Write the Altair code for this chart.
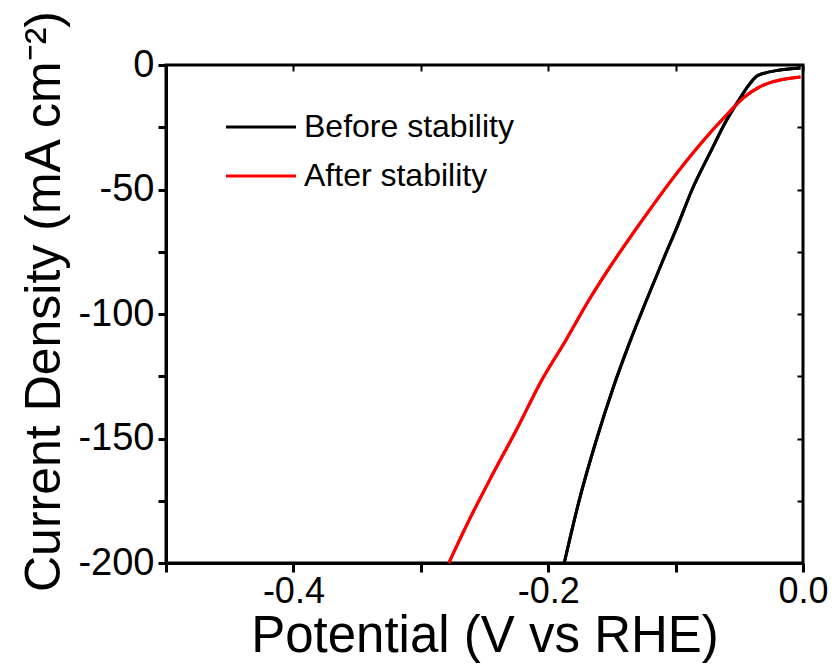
import altair as alt
import pandas as pd

before_v = [-0.1874, -0.1756, -0.1622, -0.1496, -0.1362, -0.1228, -0.1100, -0.0980,
            -0.0866, -0.0732, -0.0598, -0.0496, -0.0417, -0.0354, -0.0180, -0.0020]
before_j = [-200, -174.7, -150.6, -130.5, -111.6, -94.4, -78.5, -64.0,
            -49.5, -35.5, -22.0, -13.5, -7.5, -4.2, -2.0, -1.2]

after_v = [-0.278, -0.262, -0.246, -0.225, -0.205, -0.186, -0.168, -0.152,
           -0.126, -0.099, -0.073, -0.060, -0.047, -0.034, -0.024, -0.018, -0.002]
after_j = [-200, -182.7, -166.7, -146.6, -126.5, -110.4, -94.4, -81.5,
           -62.2, -43.4, -27.3, -20.1, -13.3, -8.8, -6.8, -6.0, -4.8]

series = ["Before stability", "After stability"]
colors = ["#000000", "#ff0000"]

x_ticks = [-0.5, -0.4, -0.3, -0.2, -0.1, 0.0]
y_ticks = [0, -25, -50, -75, -100, -125, -150, -175, -200]

rows = []
for i, (v, j) in enumerate(zip(before_v, before_j)):
    rows.append({"series": series[0], "order": i, "V": v, "J": j})
for i, (v, j) in enumerate(zip(after_v, after_j)):
    rows.append({"series": series[1], "order": i, "V": v, "J": j})
df = pd.DataFrame(rows)

FONT = "Liberation Sans"

xscale = alt.Scale(domain=[-0.5, 0.0], nice=False, zero=False)
yscale = alt.Scale(domain=[-200, 0], nice=False, zero=False)
color = alt.Color("series:N", sort=series,
                  scale=alt.Scale(domain=series, range=colors),
                  legend=alt.Legend(title=None, orient="none", legendX=76, legendY=43,
                                    symbolType="M-2,0H2", symbolSize=1225,
                                    symbolStrokeWidth=3, labelFontSize=32,
                                    labelFont=FONT, labelColor="black",
                                    rowPadding=14, labelOffset=24, labelLimit=400))

main = alt.Chart(df).mark_line(strokeWidth=3, interpolate="monotone").encode(
    x=alt.X("V:Q", scale=xscale,
            axis=alt.Axis(title="Potential (V vs RHE)", values=x_ticks,
                          labelExpr="abs(round(datum.value*10)) % 2 == 0 ? replace(format(datum.value, '.1f'), '\u2212', '-') : ''",
                          tickSize=9, tickWidth=3, domainWidth=3, domainColor="black",
                          tickColor="black", labelColor="black", labelFont=FONT,
                          labelFontSize=36, labelPadding=2, titleFont=FONT,
                          titleFontSize=51, titleFontWeight="normal", titleColor="black",
                          titlePadding=2, grid=False, labelFlush=False)),
    y=alt.Y("J:Q", scale=yscale,
            axis=alt.Axis(title="Current Density (mA cm\u207b\u00b2)", values=y_ticks,
                          labelExpr="datum.value % 50 == 0 ? replace(format(datum.value, 'd'), '\u2212', '-') : ''",
                          tickSize=8, tickWidth=3, domainWidth=3, domainColor="black",
                          tickColor="black", labelColor="black", labelFont=FONT,
                          labelFontSize=38, labelPadding=4, titleFont=FONT,
                          titleFontSize=50, titleFontWeight="normal", titleColor="black",
                          titlePadding=8, titleY=236, grid=False, labelFlush=False)),
    color=color,
    order="order:Q",
)

frame = alt.Chart(df).mark_line(strokeWidth=3, interpolate="monotone").encode(
    x=alt.X("V:Q", scale=xscale,
            axis=alt.Axis(orient="top", title=None, values=x_ticks, labels=False,
                          domain=False, tickSize=6, tickWidth=2, tickColor="black",
                          offset=-6, grid=False)),
    y=alt.Y("J:Q", scale=yscale,
            axis=alt.Axis(orient="right", title=None, values=y_ticks, labels=False,
                          domain=False, tickSize=6, tickWidth=2, tickColor="black",
                          offset=-6, grid=False)),
    color=alt.Color("series:N", sort=series,
                    scale=alt.Scale(domain=series, range=colors), legend=None),
    order="order:Q",
)

chart = alt.layer(main, frame).resolve_axis(x="independent", y="independent").properties(
    width=637, height=498,
    padding={"left": 166, "top": 65, "right": 33, "bottom": 108},
    autosize=alt.AutoSizeParams(type="none"),
    background="white",
).configure_view(stroke="black", strokeWidth=3)

chart.save("out.html", embed_options={"renderer": "svg", "actions": False})
